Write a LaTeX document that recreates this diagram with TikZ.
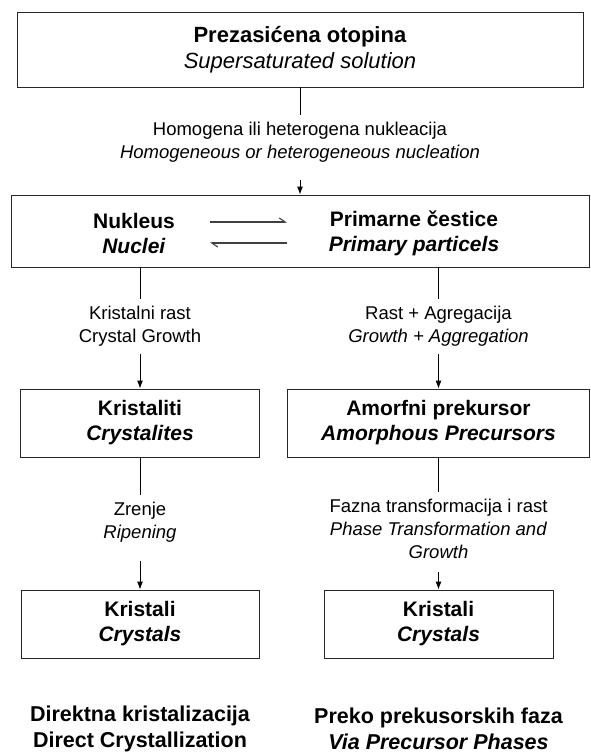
\documentclass[tikz,border=0pt]{standalone}
\usepackage{fontspec}
\setmainfont{Liberation Sans}
\usetikzlibrary{shapes,arrows,arrows.meta}
\usetikzlibrary{positioning}
\tikzstyle{box} = [draw=black!85, rectangle, line width=0.9pt, align=center,
inner sep=0pt, font=\bfseries\fontsize{21}{25}\selectfont]
\tikzstyle{proc} = [align=center, inner ysep=7pt, font=\fontsize{18.5}{23}\selectfont]
\tikzstyle{line} = [draw, line width=0.9pt, -{Latex[length=8pt, width=6pt]}]
\tikzstyle{stem} = [draw, line width=0.9pt]

\begin{document}
\begin{tikzpicture}[x=1pt, y=1pt, on grid,
	harp/.style={draw, black!75, line width=1.1pt, -{Straight Barb[harpoon, length=6pt, width=8pt]}},
	endtext/.style={align=center, font=\bfseries\fontsize{21.5}{26}\selectfont}]
	\useasboundingbox (0,0) rectangle (590,-755);
    \node [box, minimum width=566pt, minimum height=75pt, font=\fontsize{22}{26}\selectfont] (sol) at (300,-49.5)
    	{\textbf{Prezasićena otopina}\\\textit{Supersaturated solution}};
    \node [proc, below=93pt of sol] (nucl)
    	{Homogena ili heterogena nukleacija\\\textit{Homogeneous or heterogeneous nucleation}};
    \node [box, minimum width=578pt, minimum height=72pt, below=88.5pt of nucl] (N) {};
    \node [box, draw=none, left=166pt of N, yshift=-2pt] (nuk) {Nukleus\\\textit{Nuclei}};
    \node [box, draw=none, right=114pt of N, yshift=-2pt] (prim) {Primarne čestice\\\textit{Primary particels}};
	\coordinate [left=90pt of N, yshift=9pt] (eqa);
	\coordinate [left=13pt of N, yshift=9pt] (eqb);
	\coordinate [left=13pt of N, yshift=-12pt] (eqc);
	\coordinate [left=90pt of N, yshift=-12pt] (eqd);
	%% Direct path
	\node [proc, below=93.5pt of nuk, xshift=6pt] (krg) {Kristalni rast\\Crystal Growth};
	\node [box, minimum width=239pt, minimum height=68pt, below=96.5pt of krg] (kti) {Kristaliti\\\textit{Crystalites}};
	\node [proc, below=99pt of kti] (zr) {Zrenje\\\textit{Ripening}};
	\node [box, minimum width=238pt, minimum height=68pt, below=102pt of zr] (kr1) {Kristali\\\textit{Crystals}};
	\node [endtext, below=105pt of kr1] (dk) {Direktna kristalizacija\\Direct Crystallization};
	%% Precursor path
	\node [proc, below=93.5pt of prim, xshift=24.5pt] (rag) {Rast + Agregacija\\\textit{Growth + Aggregation}};
	\node [box, minimum width=302pt, minimum height=68pt, below=96.5pt of rag] (amo) {Amorfni prekursor\\\textit{Amorphous Precursors}};
	\node [proc, below=106pt of amo] (faz) {Fazna transformacija i rast\\\textit{Phase Transformation and}\\\textit{Growth}};
	\node [box, minimum width=229pt, minimum height=68pt, below=95pt of faz] (kr2) {Kristali\\\textit{Crystals}};
	\node [endtext, below=105pt of kr2] (pp) {Preko prekusorskih faza\\\textit{Via Precursor Phases}};
	%% Arrows
	\path [stem] (sol) -- (nucl);
	\path [line, shorten <=10pt] (nucl) -- (N);
	\path [harp] (eqa) -- (eqb);
	\path [harp] (eqc) -- (eqd);
	\path [stem] (krg |- N.south) -- (krg);
	\path [line] (krg) -- (kti);
	\path [stem] (kti) -- (zr);
	\path [line, shorten <=12pt] (zr) -- (kr1);
	\path [stem] (rag |- N.south) -- (rag);
	\path [line] (rag) -- (amo);
	\path [stem] (amo) -- (faz);
	\path [line, shorten <=6pt] (faz) -- (kr2);
\end{tikzpicture}
\end{document}
